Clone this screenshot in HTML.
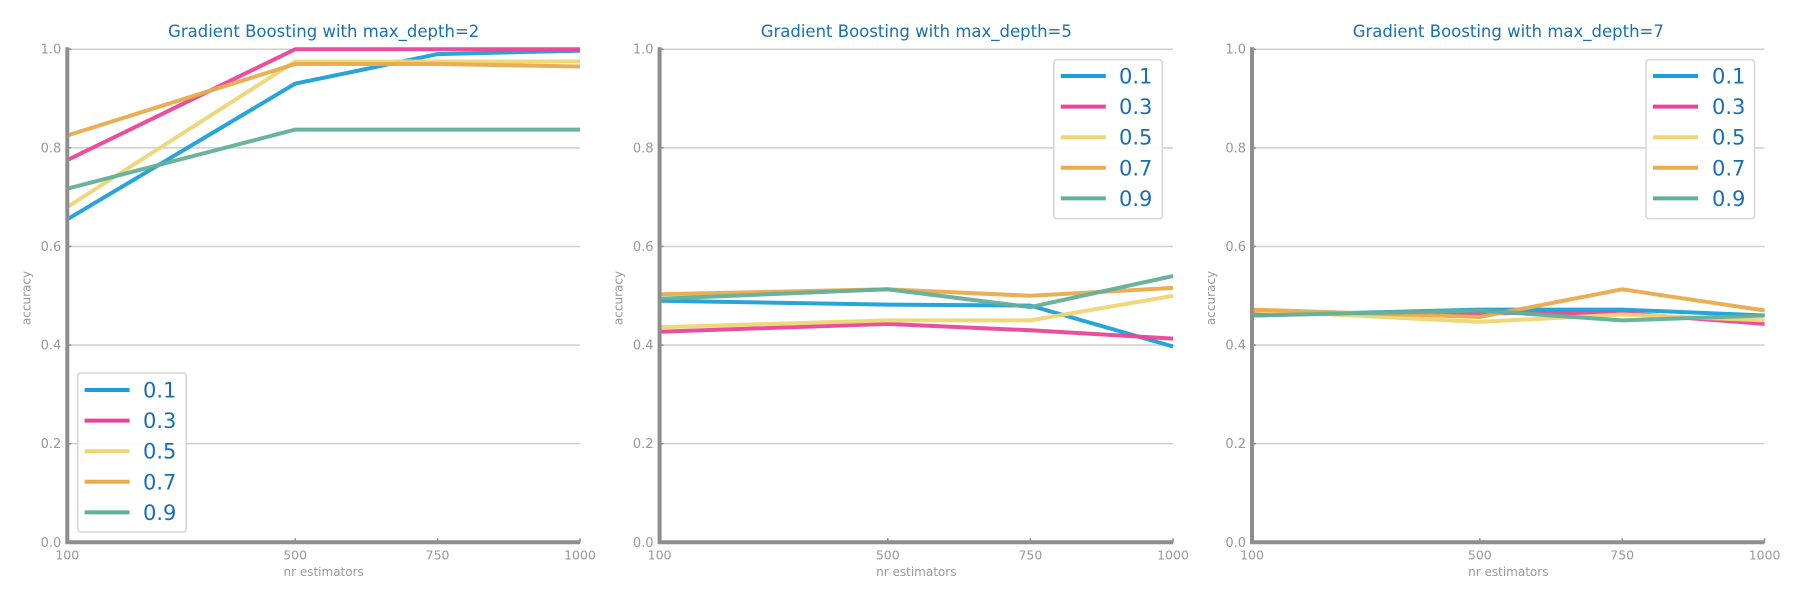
<!DOCTYPE html>
<html><head><meta charset="utf-8"><style>
html,body{margin:0;padding:0;background:#fff;}
svg{display:block;font-family:"DejaVu Sans","Liberation Sans",sans-serif;}
</style></head><body>
<svg id="chart" width="1800" height="600" viewBox="0 0 1800 600" xmlns="http://www.w3.org/2000/svg"></svg>
<script>
const estimators = [100, 500, 750, 1000];
const seriesLabels = ["0.1", "0.3", "0.5", "0.7", "0.9"];
const yTicks = [0.0, 0.2, 0.4, 0.6, 0.8, 1.0];
const panelTitles = ["Gradient Boosting with max_depth=2", "Gradient Boosting with max_depth=5", "Gradient Boosting with max_depth=7"];
const depth2 = [
  [0.655, 0.93, 0.99, 0.997],
  [0.775, 1.0, 1.0, 1.0],
  [0.68, 0.975, 0.975, 0.975],
  [0.825, 0.97, 0.97, 0.965],
  [0.717, 0.837, 0.837, 0.837]
];
const depth5 = [
  [0.49, 0.482, 0.48, 0.397],
  [0.427, 0.443, 0.43, 0.413],
  [0.436, 0.45, 0.45, 0.5],
  [0.503, 0.513, 0.5, 0.516],
  [0.494, 0.513, 0.477, 0.54]
];
const depth7 = [
  [0.46, 0.472, 0.472, 0.46],
  [0.465, 0.465, 0.465, 0.443],
  [0.47, 0.447, 0.462, 0.45],
  [0.472, 0.457, 0.513, 0.47],
  [0.46, 0.47, 0.45, 0.46]
];
const panelData = [depth2, depth5, depth7];

const colors = ["#1b9fd8", "#ea4498", "#eed574", "#e9ab4c", "#62b09a"];
const NS = "http://www.w3.org/2000/svg";
const svgEl = document.getElementById("chart");
function mk(tag, attrs, parent, text){
  const e = document.createElementNS(NS, tag);
  for (const k in attrs) e.setAttribute(k, attrs[k]);
  if (text !== undefined) e.textContent = text;
  parent.appendChild(e);
  return e;
}
const panels = [
  {left:67.3, right:580, legend:{x:77.7, y:373, lineX:84.6, textX:143, rowY:390}},
  {left:659.6, right:1173, legend:{x:1053.8, y:59.6, lineX:1060.8, textX:1119, rowY:76}},
  {left:1252, right:1764.6, legend:{x:1646, y:59.6, lineX:1653, textX:1712, rowY:76}}
];
const plotTop = 49.2, plotBottom = 542.3;
panels.forEach((p, pi) => {
  const g = mk("g", {}, svgEl);
  
  
  const xs = v => p.left + (v - estimators[0]) / (estimators[estimators.length-1] - estimators[0]) * (p.right - p.left);
  const ys = v => plotBottom - v * (plotBottom - plotTop);
  yTicks.forEach(t => {
    const gl = mk("line", {x1:p.left, x2:p.right, y1:ys(t), y2:ys(t), stroke:"#cfcfcf", "stroke-width":1.5}, g);
    
    
    mk("line", {x1:p.left, x2:p.left+4, y1:ys(t), y2:ys(t), stroke:"#8e8e8e", "stroke-width":1.5}, g);
    const tl = mk("text", {x:p.left-6, y:ys(t)+4.5, "text-anchor":"end", "font-size":"13", fill:"#999"}, g, t.toFixed(1));
    
    
  });
  estimators.forEach(v => {
    mk("line", {x1:xs(v), x2:xs(v), y1:plotBottom, y2:plotBottom-4, stroke:"#8e8e8e", "stroke-width":1.5}, g);
    const tl = mk("text", {x:xs(v), y:plotBottom+17, "text-anchor":"middle", "font-size":"12.5", fill:"#999"}, g, String(v));
    
    
  });
  panelData[pi].forEach((vals, si) => {
    const pts = vals.map((v, i) => xs(estimators[i]).toFixed(1) + "," + ys(v).toFixed(1)).join(" ");
    const pl = mk("polyline", {points:pts, fill:"none", stroke:colors[si], "stroke-width":4, "stroke-opacity":0.95}, g);
    
    
  });
  const sp = mk("path", {d:`M${p.left},${plotTop-2} L${p.left},${plotBottom} L${p.right},${plotBottom}`, fill:"none", stroke:"#8e8e8e", "stroke-width":4}, g);
  
  
  const tt = mk("text", {x:(p.left+p.right)/2, y:37, "text-anchor":"middle", "font-size":"16.5", fill:"#1a70b3"}, g, panelTitles[pi]);
  
  
  const xl = mk("text", {x:(p.left+p.right)/2, y:576, "text-anchor":"middle", "font-size":"12", fill:"#999"}, g, "nr estimators");
  
  
  const yl = mk("text", {x:0, y:0, transform:`translate(${p.left-37},298) rotate(-90)`, "text-anchor":"middle", "font-size":"12", fill:"#999"}, g, "accuracy");
  
  
  const L = p.legend;
  const lg = mk("g", {}, g);
  
  
  mk("rect", {x:L.x, y:L.y, width:108.5, height:159, rx:3, fill:"#fff", "fill-opacity":0.9, stroke:"#d5d5d5", "stroke-width":1.5}, lg);
  seriesLabels.forEach((lab, si) => {
    const yy = L.rowY + si * 30.6;
    const e = mk("g", {}, lg);
    
    
    mk("line", {x1:L.lineX, x2:L.lineX+45, y1:yy, y2:yy, stroke:colors[si], "stroke-width":4}, e);
    mk("text", {x:L.textX, y:yy+7.5, "font-size":"21", fill:"#1a6eb5"}, e, lab);
  });
});
</script>
</body></html>
